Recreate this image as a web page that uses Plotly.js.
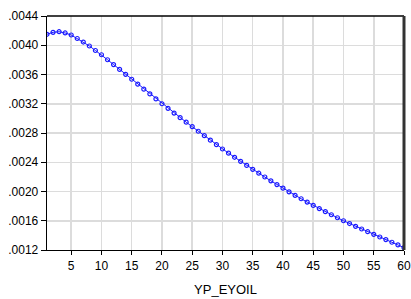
<!DOCTYPE html>
<html>
<head>
<meta charset="utf-8">
<script src="https://cdn.plot.ly/plotly-3.0.1.min.js"></script>
<style>html,body{margin:0;padding:0;background:#fff;}#chart{width:411px;height:299px;}</style>
</head>
<body>
<div id="chart"></div>
<script>
const periods = [1,2,3,4,5,6,7,8,9,10,11,12,13,14,15,16,17,18,19,20,21,22,23,24,25,26,27,28,29,30,31,32,33,34,35,36,37,38,39,40,41,42,43,44,45,46,47,48,49,50,51,52,53,54,55,56,57,58,59,60];
const response = [
  0.004150,0.004177,0.004185,0.004168,0.004140,0.004092,0.004044,0.003990,0.003928,0.003870,
  0.003802,0.003736,0.003670,0.003602,0.003535,0.003468,0.003400,0.003334,0.003266,0.003200,
  0.003137,0.003073,0.003010,0.002948,0.002886,0.002824,0.002763,0.002702,0.002641,0.002581,
  0.002524,0.002468,0.002412,0.002357,0.002303,0.002250,0.002198,0.002146,0.002095,0.002045,
  0.001996,0.001948,0.001901,0.001855,0.001810,0.001767,0.001724,0.001682,0.001641,0.001600,
  0.001562,0.001524,0.001487,0.001450,0.001414,0.001378,0.001342,0.001306,0.001269,0.001232
];
const yTickVals = [0.0012,0.0016,0.0020,0.0024,0.0028,0.0032,0.0036,0.0040,0.0044];
const yTickText = [".0012",".0016",".0020",".0024",".0028",".0032",".0036",".0040",".0044"];
const xTickVals = [5,10,15,20,25,30,35,40,45,50,55,60];
const seriesName = "YP_EYOIL";

const trace = {
  x: periods, y: response, type: 'scatter', mode: 'lines+markers',
  line: {color: '#1a1aff', width: 1},
  marker: {symbol: 'circle-open', size: 4, color: '#1a1aff', line: {width: 1.2, color: '#1a1aff'}},
  hoverinfo: 'skip'
};
const layout = {
  width: 411, height: 299,
  margin: {l: 47, r: 7, t: 16, b: 49},
  paper_bgcolor: '#fff', plot_bgcolor: '#fff',
  font: {family: 'Liberation Sans, Arial, sans-serif', size: 12, color: '#000'},
  showlegend: false,
  xaxis: {
    range: [1, 60], tickvals: xTickVals, ticktext: xTickVals.map(String),
    showgrid: true, gridcolor: '#dcdcdc', gridwidth: 1.5,
    showline: true, linecolor: '#000', linewidth: 1.3,
    ticks: 'outside', ticklen: 4, tickcolor: '#000', tickwidth: 1,
    zeroline: false, tickfont: {size: 12},
    title: {text: seriesName, font: {size: 13}, standoff: 13}
  },
  yaxis: {
    range: [0.0012, 0.0044], tickvals: yTickVals, ticktext: yTickText,
    showgrid: true, gridcolor: '#dcdcdc', gridwidth: 1.5,
    showline: true, linecolor: '#000', linewidth: 1.3,
    ticks: 'outside', ticklen: 5, tickcolor: '#000', tickwidth: 1,
    zeroline: false, tickfont: {size: 12}
  },
  shapes: [
    {type: 'line', xref: 'paper', yref: 'paper', x0: 0, x1: 1, y0: 1, y1: 1, line: {color: '#000', width: 1.3}},
    {type: 'line', xref: 'paper', yref: 'paper', x0: 1, x1: 1, y0: 0, y1: 1, line: {color: '#333', width: 3}}
  ]
};
Plotly.newPlot('chart', [trace], layout, {staticPlot: true, displayModeBar: false});
</script>
</body>
</html>
